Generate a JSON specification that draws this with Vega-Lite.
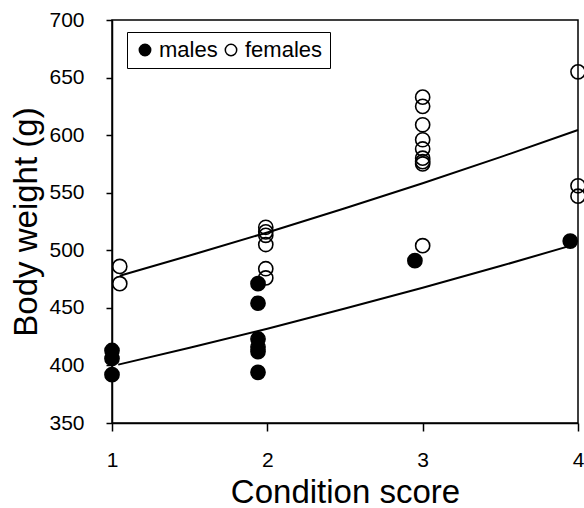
{
  "$schema": "https://vega.github.io/schema/vega-lite/v6.json",
  "width": 466,
  "height": 403,
  "autosize": "none",
  "padding": {"left": 112, "top": 20, "right": 6, "bottom": 85},
  "background": "white",
  "config": {
    "font": "Liberation Sans",
    "view": {"stroke": "black", "strokeWidth": 1.5},
    "axis": {
      "domainColor": "black", "domainWidth": 1.5, "tickColor": "black", "tickWidth": 1.5,
      "labelColor": "black", "titleColor": "black", "labelFont": "Liberation Sans", "titleFont": "Liberation Sans",
      "labelFontSize": 21, "titleFontSize": 33, "titleFontWeight": "normal", "grid": false
    }
  },
  "datasets": {
    "points": [
      {"score": 1.0, "weight": 413, "sex": "males"},
      {"score": 1.0, "weight": 406, "sex": "males"},
      {"score": 1.0, "weight": 392, "sex": "males"},
      {"score": 1.94, "weight": 471, "sex": "males"},
      {"score": 1.94, "weight": 454, "sex": "males"},
      {"score": 1.94, "weight": 423, "sex": "males"},
      {"score": 1.94, "weight": 416, "sex": "males"},
      {"score": 1.94, "weight": 412, "sex": "males"},
      {"score": 1.94, "weight": 394, "sex": "males"},
      {"score": 2.95, "weight": 491, "sex": "males"},
      {"score": 3.95, "weight": 508, "sex": "males"},
      {"score": 1.05, "weight": 486, "sex": "females"},
      {"score": 1.05, "weight": 471, "sex": "females"},
      {"score": 1.99, "weight": 520, "sex": "females"},
      {"score": 1.99, "weight": 516, "sex": "females"},
      {"score": 1.99, "weight": 513, "sex": "females"},
      {"score": 1.99, "weight": 505, "sex": "females"},
      {"score": 1.99, "weight": 484, "sex": "females"},
      {"score": 1.99, "weight": 476, "sex": "females"},
      {"score": 3.0, "weight": 633, "sex": "females"},
      {"score": 3.0, "weight": 625, "sex": "females"},
      {"score": 3.0, "weight": 609, "sex": "females"},
      {"score": 3.0, "weight": 596, "sex": "females"},
      {"score": 3.0, "weight": 588, "sex": "females"},
      {"score": 3.0, "weight": 580, "sex": "females"},
      {"score": 3.0, "weight": 577, "sex": "females"},
      {"score": 3.0, "weight": 575, "sex": "females"},
      {"score": 3.0, "weight": 504, "sex": "females"},
      {"score": 4.0, "weight": 655, "sex": "females"},
      {"score": 4.0, "weight": 556, "sex": "females"},
      {"score": 4.0, "weight": 547, "sex": "females"}
    ],
    "curves": [
      {"score": 1.04, "weight": 400.7, "sex": "males"},
      {"score": 1.5, "weight": 415.4, "sex": "males"},
      {"score": 2.0, "weight": 431.9, "sex": "males"},
      {"score": 2.5, "weight": 449.4, "sex": "males"},
      {"score": 3.0, "weight": 467.5, "sex": "males"},
      {"score": 3.5, "weight": 486.3, "sex": "males"},
      {"score": 3.94, "weight": 503.5, "sex": "males"},
      {"score": 1.05, "weight": 477.9, "sex": "females"},
      {"score": 1.5, "weight": 495.4, "sex": "females"},
      {"score": 2.0, "weight": 515.5, "sex": "females"},
      {"score": 2.5, "weight": 536.5, "sex": "females"},
      {"score": 3.0, "weight": 558.2, "sex": "females"},
      {"score": 3.5, "weight": 580.9, "sex": "females"},
      {"score": 4.0, "weight": 604.5, "sex": "females"}
    ]
  },
  "encoding": {
    "x": {
      "field": "score", "type": "quantitative",
      "scale": {"domain": [1, 4], "nice": false, "zero": false},
      "axis": {"title": "Condition score", "values": [1, 2, 3, 4], "tickSize": 8, "labelPadding": 18, "titlePadding": 6, "labelFlush": false}
    },
    "y": {
      "field": "weight", "type": "quantitative",
      "scale": {"domain": [350, 700], "nice": false, "zero": false},
      "axis": {"title": "Body weight (g)", "values": [350, 400, 450, 500, 550, 600, 650, 700], "tickSize": 6, "labelPadding": 22, "titlePadding": 5, "labelFlush": false}
    }
  },
  "layer": [
    {
      "data": {"name": "curves"},
      "mark": {"type": "line", "color": "black", "strokeWidth": 2, "interpolate": "monotone"},
      "encoding": {"detail": {"field": "sex"}}
    },
    {
      "data": {"name": "points"},
      "mark": {"type": "point", "shape": "circle", "size": 200, "stroke": "black", "strokeWidth": 1.6, "filled": false, "opacity": 1},
      "encoding": {
        "fill": {
          "field": "sex", "type": "nominal",
          "scale": {"domain": ["males", "females"], "range": ["black", "transparent"]},
          "legend": {
            "title": null, "orient": "none", "legendX": 15, "legendY": 12, "direction": "horizontal",
            "strokeColor": "black", "padding": 7, "labelFontSize": 22, "labelColor": "black", "labelFont": "Liberation Sans",
            "symbolSize": 130, "symbolStrokeColor": "black", "symbolStrokeWidth": 1.5, "symbolType": "circle",
            "labelOffset": 3, "columnPadding": 2, "labelLimit": 200,
            "symbolOpacity": 1, "symbolFillColor": "black"
          }
        }
      }
    }
  ]
}
